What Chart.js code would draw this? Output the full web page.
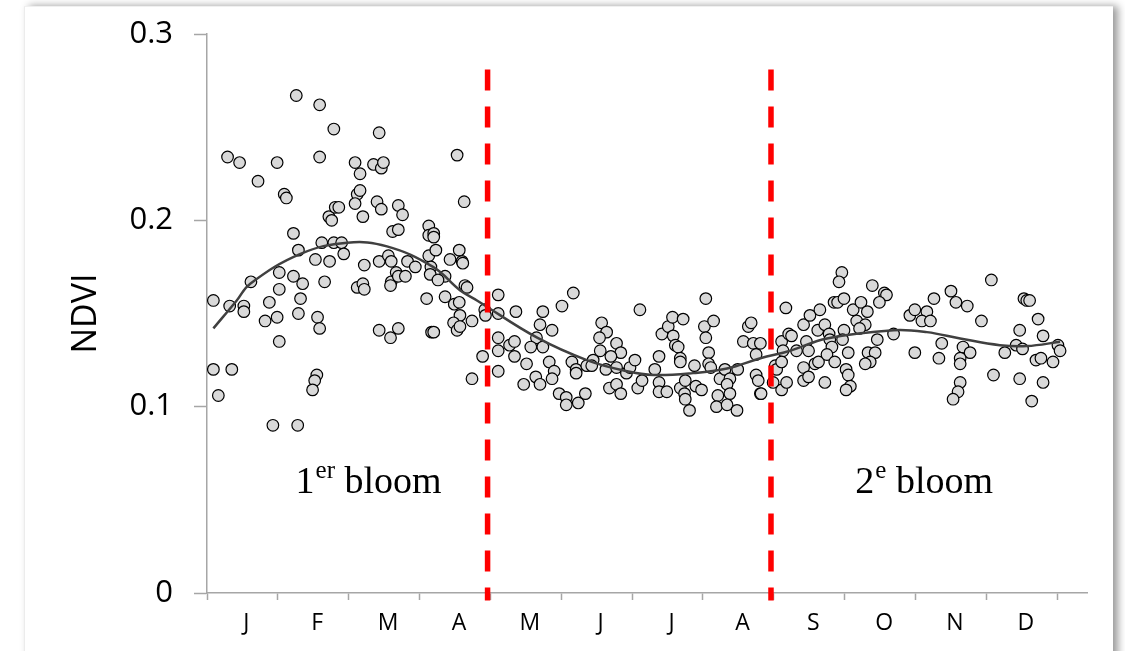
<!DOCTYPE html>
<html>
<head>
<meta charset="utf-8">
<script src="https://cdn.jsdelivr.net/npm/chart.js@4.4.0/dist/chart.umd.min.js"></script>
<style>
html, body { margin: 0; padding: 0; background: #fff; overflow: hidden; }
#card { position: absolute; left: 24px; top: 6px; width: 1088px; height: 700px; background: #fff;
        border-left: 1px solid #ececec; border-top: 1px solid #f0f0f0; box-shadow: 5px 0 8px rgba(0,0,0,0.4); }
#wrap { position: absolute; left: 0; top: 0; width: 1125px; height: 651px; }
</style>
</head>
<body>
<div id="card"></div>
<div id="wrap"><canvas id="myChart" width="1125" height="651"></canvas></div>
<script>
// month letters, placed in the middle of each month
const months = ["J", "F", "M", "A", "M", "J", "J", "A", "S", "O", "N", "D"];
const yTicks = [0, 0.1, 0.2, 0.3];

// observations: position in the year (months from 1 Jan) and NDVI
const obsMonth = [
    1.26, 1.59, 1.79, 2.43, 0.29, 0.46, 0.99, 1.59, 2.09, 2.16, 2.35, 2.46, 2.49, 3.53, 0.72, 1.09, 1.12, 2.12, 2.16, 2.09,
    2.40, 2.46, 2.70, 2.76, 3.63, 1.72, 1.76, 1.81, 1.86, 2.20, 1.22, 2.62, 2.70, 3.13, 3.13, 3.20, 3.20, 1.29, 1.62, 1.79,
    1.90, 1.93, 1.53, 1.73, 2.22, 2.43, 2.56, 2.60, 2.83, 2.94, 3.13, 3.23, 3.43, 3.56, 3.60, 3.61, 3.16, 3.15, 3.36, 3.26,
    0.62, 1.02, 1.22, 1.35, 1.02, 1.66, 2.12, 2.20, 2.22, 2.60, 2.59, 2.67, 2.70, 2.80, 3.64, 3.67, 3.10, 3.36, 4.11, 0.09,
    0.88, 1.32, 0.32, 0.52, 0.52, 1.29, 0.82, 0.99, 1.02, 1.56, 1.59, 2.43, 2.59, 2.70, 3.17, 3.20, 3.49, 3.56, 3.57, 3.48,
    3.53, 3.57, 3.74, 3.92, 3.93, 4.11, 3.89, 3.74, 0.09, 0.35, 0.16, 1.55, 1.52, 1.49, 0.93, 1.28, 4.11, 4.11, 4.11,
    4.36, 4.27, 4.34, 4.34, 4.51, 4.47, 4.64, 4.70, 4.74, 4.70, 4.87, 5.01, 5.17, 4.65, 4.57, 4.74, 4.83, 4.90, 4.87, 4.97,
    5.07, 5.07, 5.24, 5.34, 5.15, 5.21, 5.21, 5.36, 5.45, 5.43, 5.57, 5.64, 5.54, 5.55, 5.78, 5.84, 5.70, 5.63, 5.78, 5.92,
    5.97, 6.04, 5.68, 5.78, 5.84, 6.08, 6.14, 6.11, 6.32, 6.38, 6.38, 6.38, 6.49, 6.42, 6.51, 6.57, 6.72, 6.58, 6.61, 6.65,
    6.68, 6.68, 6.68, 6.75, 6.74, 6.75, 6.81, 6.88, 6.90, 6.98, 7.04, 7.02, 7.15, 7.04, 7.08, 7.08, 7.11, 7.24, 7.31, 7.38,
    7.34, 7.21, 7.38, 7.19, 7.34, 7.48, 7.49, 7.57, 7.64, 7.68, 7.71, 7.75, 7.75, 7.78, 7.81, 7.82, 8.02, 8.11, 8.13, 8.04,
    8.11, 7.99, 8.17, 8.21,
    7.81, 8.11, 8.18, 8.25, 8.32, 8.42, 8.51, 8.65, 8.46, 8.49, 8.42, 8.42, 8.49, 8.58, 8.63, 8.62, 8.72, 8.78, 8.79, 8.82,
    8.75, 8.72, 8.85, 8.90, 8.96, 8.92, 8.99, 8.99, 8.97, 9.05, 8.86, 9.02, 9.05, 9.08, 9.02, 9.12, 9.23, 9.32, 9.17, 9.29,
    9.21, 9.39, 9.56, 9.59, 9.49, 9.46, 9.33, 9.43, 9.36, 9.29, 9.69, 9.92, 9.99, 10.16, 10.09, 10.21, 10.26, 9.99, 10.37, 10.33,
    10.50, 10.57, 10.73, 10.67, 10.77, 10.63, 10.63, 10.63, 10.60, 10.53, 10.93, 11.07, 11.10, 11.26, 11.47, 11.42, 11.51, 11.53, 11.57, 11.61,
    11.73, 11.80, 11.70, 11.77, 11.94, 11.47, 11.80, 11.64, 12.01, 12.04
];
const obsNdvi = [
    .267, .262, .249, .247, .234, .231, .231, .234, .231, .225, .230, .228, .231, .235, .221, .214, .212, .214, .216, .209,
    .210, .206, .208, .203, .210, .202, .200, .207, .207, .202, .193, .194, .195, .197, .192, .193, .191, .184, .188, .188,
    .188, .182, .179, .178, .176, .178, .181, .178, .178, .175, .181, .184, .179, .184, .178, .177, .175, .171, .170, .168,
    .167, .172, .170, .166, .163, .167, .164, .166, .163, .167, .165, .172, .170, .170, .165, .164, .158, .159, .160, .157,
    .156, .158, .154, .154, .151, .150, .146, .148, .135, .148, .142, .141, .137, .142, .140, .140, .155, .156, .149, .145,
    .141, .143, .146, .152, .149, .150, .127, .115, .120, .120, .106, .117, .114, .109, .090, .090, .137, .130, .119,
    .151, .133, .135, .127, .123, .112, .116, .112, .151, .144, .141, .154, .161, .137, .132, .132, .124, .119, .115, .107,
    .105, .101, .102, .107, .124, .120, .118, .122, .125, .122, .145, .140, .137, .130, .134, .129, .127, .120, .121, .118,
    .121, .125, .110, .112, .107, .110, .114, .152, .120, .127, .113, .108, .108, .139, .143, .148, .147, .138, .133, .132,
    .126, .124, .110, .114, .107, .104, .098, .122, .111, .109, .158, .143, .146, .137, .129, .123, .121, .115, .120, .115,
    .112, .106, .107, .100, .101, .098, .120, .135, .143, .145, .134, .128, .117, .114, .107, .107, .122, .135, .130, .120,
    .109, .113, .153, .139,
    .134, .124, .113, .138, .130, .144, .149, .152, .135, .130, .121, .114, .116, .123, .124, .141, .144, .139, .136, .132,
    .128, .113, .156, .156, .172, .167, .158, .141, .136, .129, .124, .120, .117, .111, .109, .152, .156, .151, .146, .144,
    .142, .165, .161, .160, .156, .136, .129, .129, .124, .123, .139, .149, .152, .151, .146, .146, .158, .129, .134, .126,
    .162, .156, .154, .132, .129, .126, .123, .113, .108, .104, .146, .168, .117, .129, .141, .133, .131, .158, .157, .157,
    .147, .138, .125, .126, .124, .115, .113, .103, .133, .130
];

// smoothed seasonal curve
const trendMonth = [0.09, 0.42, 0.61, 1.32, 1.98, 2.54, 3.19, 3.57, 3.81, 4.66, 5.36, 5.93, 6.30, 6.86, 7.34, 7.81, 8.23, 8.75, 9.69, 10.16, 10.63, 11.19, 11.57, 12.04];
const trendNdvi  = [0.142, 0.157, 0.166, 0.182, 0.188, 0.186, 0.175, 0.1625, 0.157, 0.137, 0.125, 0.119, 0.117, 0.118, 0.1205, 0.126, 0.130, 0.1366, 0.141, 0.140, 0.1366, 0.133, 0.1325, 0.1348];

// bloom limits (end of April, end of August)
const bloomSplits = [3.96, 7.96];
const splitTop = 0.281;
const splitBottom = -0.004;

const points = obsMonth.map(function (m, i) { return { x: m, y: obsNdvi[i] }; });
const trend = trendMonth.map(function (m, i) { return { x: m, y: trendNdvi[i] }; });

const splitSets = bloomSplits.map(function (m) {
    return {
        type: "line",
        data: [{ x: m, y: splitTop }, { x: m, y: splitBottom }],
        borderColor: "#ff0000",
        borderWidth: 5.5,
        borderDash: [21, 16],
        pointRadius: 0,
        clip: false,
        order: 0
    };
});

// "1er bloom" / "2e bloom" text with superscripts
const bloomText = [
    { x: 1.25, y: 0.0535, main: "1", sup: "er", rest: " bloom" },
    { x: 9.15, y: 0.0535, main: "2", sup: "e", rest: " bloom" }
];

const bloomLabels = {
    id: "bloomLabels",
    afterDatasetsDraw: function (chart) {
        const ctx = chart.ctx;
        const sx = chart.scales.x, sy = chart.scales.y;
        ctx.save();
        ctx.fillStyle = "#000";
        ctx.textBaseline = "alphabetic";
        ctx.textAlign = "left";
        bloomText.forEach(function (b) {
            let px = sx.getPixelForValue(b.x);
            const py = sy.getPixelForValue(b.y);
            ctx.font = '38px "Liberation Serif"';
            ctx.fillText(b.main, px, py);
            px += ctx.measureText(b.main).width;
            ctx.font = '25px "Liberation Serif"';
            ctx.fillText(b.sup, px + 1, py - 15);
            px += ctx.measureText(b.sup).width + 1;
            ctx.font = '38px "Liberation Serif"';
            ctx.fillText(b.rest, px, py);
        });
        ctx.restore();
    }
};

new Chart("myChart", {
    type: "scatter",
    data: {
        datasets: splitSets.concat([
            {
                type: "line",
                data: trend,
                borderColor: "#404040",
                borderWidth: 2.5,
                tension: 0.4,
                pointRadius: 0,
                order: 1
            },
            {
                data: points,
                backgroundColor: "#d9d9d9",
                borderColor: "#000",
                borderWidth: 1.2,
                pointRadius: 5.8,
                order: 2
            }
        ])
    },
    options: {
        responsive: false,
        animation: false,
        devicePixelRatio: 1,
        layout: { padding: { top: 34, right: 38, left: 0, bottom: 0 } },
        plugins: { legend: { display: false }, tooltip: { enabled: false } },
        scales: {
            x: {
                type: "linear",
                min: 0,
                max: 12.42,
                afterBuildTicks: function (axis) {
                    const t = [];
                    for (let i = 0; i <= 24; i++) t.push({ value: i / 2 });
                    axis.ticks = t;
                },
                afterFit: function (s) { s.height = 58; },
                ticks: {
                    autoSkip: false,
                    maxRotation: 0,
                    padding: 10,
                    labelOffset: 4,
                    color: "#000",
                    font: { family: "Open Sans", size: 23 },
                    callback: function (v) {
                        return Math.round(v * 2) % 2 === 1 ? months[Math.floor(v)] : "";
                    }
                },
                grid: {
                    drawOnChartArea: false,
                    tickLength: 7,
                    tickWidth: 1.5,
                    tickColor: function (c) {
                        return c.tick && Number.isInteger(c.tick.value) ? "#a6a6a6" : "rgba(0,0,0,0)";
                    }
                },
                border: { color: "#a6a6a6", width: 1.5 }
            },
            y: {
                min: 0,
                max: 0.3,
                afterBuildTicks: function (axis) {
                    axis.ticks = yTicks.map(function (v) { return { value: v }; });
                },
                afterFit: function (s) { s.width = 207; },
                ticks: {
                    padding: 21,
                    color: "#000",
                    font: { family: "Open Sans", size: 31, lineHeight: 0.8 },
                    callback: function (v) { return v === 0 ? "0" : v.toFixed(1); }
                },
                grid: { drawOnChartArea: false, tickLength: 13, tickWidth: 1.5, tickColor: "#a6a6a6" },
                border: { color: "#a6a6a6", width: 1.5 },
                title: {
                    display: true,
                    text: "NDVI",
                    color: "#000",
                    font: { family: "Open Sans", size: 34 },
                    padding: { top: 66, bottom: 0 }
                }
            }
        }
    },
    plugins: [bloomLabels]
});
</script>
</body>
</html>
